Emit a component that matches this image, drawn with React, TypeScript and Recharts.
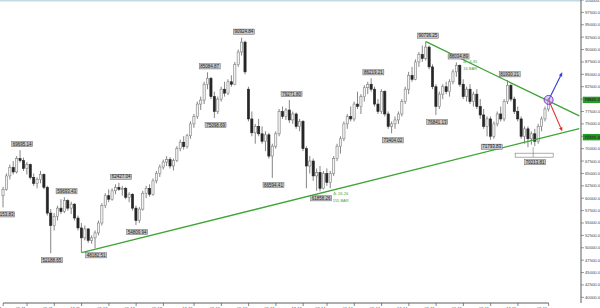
// Weekly-style candles with two converging trend lines and pivot labels
import { ComposedChart, Bar, XAxis, YAxis, ReferenceLine, ReferenceDot } from 'recharts';

type Ohlc = [number, number, number, number]; // open, high, low, close

const y2011: Ohlc[] = [
  [60500, 62300, 58150, 61800], [61800, 65000, 61500, 64500], [64500, 66800, 63800, 66200], [66200, 67500, 64800, 65300],
  [65300, 68500, 65000, 68000], [68000, 69700, 67200, 67600], [67600, 68200, 65500, 66000], [66000, 67300, 64800, 66800],
  [66800, 67000, 63800, 64200], [64200, 65000, 62500, 63000], [63000, 64200, 62000, 63800], [63800, 65500, 63000, 64800],
  [64800, 65000, 61800, 62200], [62200, 62500, 56500, 57000], [57000, 57800, 48900, 54500], [54500, 57000, 53500, 56300],
  [56300, 58500, 55500, 58000], [58000, 59800, 56800, 57300], [57300, 60200, 57000, 59500], [59500, 59800, 57500, 58000],
  [58000, 59300, 56800, 58800], [58800, 59000, 55500, 56000], [56000, 56500, 53500, 54000], [54000, 55000, 49000, 52000],
  [52000, 54500, 51500, 53800], [53800, 54000, 51000, 51500], [51500, 52500, 50800, 52000], [52000, 53500, 49900, 53000],
  [53000, 55500, 52500, 55000], [55000, 59000, 54500, 58500], [58500, 61000, 58000, 60500],
];

const y2012: Ohlc[] = [
  [60500, 61800, 59200, 59800], [59800, 62000, 59500, 61500], [61500, 62800, 60800, 62200], [62200, 63100, 61500, 61800],
  [61800, 62500, 60500, 62000], [62000, 62300, 59800, 60200], [60200, 61200, 59200, 60800], [60800, 61000, 57500, 58000],
  [58000, 58500, 54600, 55500], [55500, 58200, 55000, 57800], [57800, 61500, 57500, 61000], [61000, 62500, 60000, 62000],
  [62000, 62800, 60300, 60800], [60800, 64000, 60500, 63500], [63500, 65500, 63000, 65000], [65000, 66800, 64300, 66300],
  [66300, 67800, 65800, 67300], [67300, 68500, 66500, 67800], [67800, 68300, 66000, 66500], [66500, 68000, 65600, 67600],
  [67600, 70500, 67300, 70000], [70000, 71800, 69500, 71300], [71300, 72500, 69800, 70400], [70400, 73000, 70000, 72600],
  [72600, 75500, 72000, 75000], [75000, 77000, 74200, 76500], [76500, 79500, 76000, 79000], [79000, 80500, 77800, 79800],
  [79800, 83500, 79000, 83000], [83000, 85400, 82000, 84200], [84200, 84500, 80000, 80500], [80500, 81500, 76200, 77500],
  [77500, 80500, 77000, 80000],
];

const y2013: Ohlc[] = [
  [80000, 82500, 79500, 82000], [82000, 83500, 80500, 81200], [81200, 84000, 80800, 83500], [83500, 84800, 82500, 83000],
  [83000, 87500, 82800, 87000], [87000, 90000, 86500, 89500], [89500, 92400, 88800, 91500], [91500, 91800, 85000, 85500],
  [82000, 82500, 75500, 76000], [76000, 77500, 72500, 73200], [73200, 75000, 71000, 74500], [74500, 76000, 72500, 73000],
  [73000, 74500, 71000, 71500], [71500, 73500, 69500, 72800], [72800, 73200, 68000, 68500], [68500, 71000, 64100, 70500],
  [70500, 73500, 70000, 73000], [73000, 78000, 72500, 77500], [77500, 78500, 76000, 76500], [76500, 78200, 75800, 77800],
  [77800, 79800, 75200, 75800], [75800, 77500, 75000, 77000], [77000, 77300, 74000, 74500], [74500, 76000, 73500, 75500],
  [75500, 75800, 69500, 70000], [70000, 70500, 62000, 66500], [66500, 68500, 65000, 67500], [67500, 68000, 63500, 64500],
  [64500, 66000, 61500, 65200], [65200, 66500, 61400, 62000], [62000, 65500, 61800, 65000], [65000, 66000, 62500, 63200],
];

const y2014: Ohlc[] = [
  [63200, 65500, 62000, 65000], [65000, 68500, 64500, 68000], [68000, 71000, 67500, 70500], [70500, 72500, 69000, 72000],
  [72000, 75500, 71500, 75000], [75000, 77000, 74000, 76500], [76500, 78500, 75500, 76000], [76000, 79500, 75500, 79000],
  [79000, 81500, 78000, 78500], [78500, 81000, 77000, 80500], [80500, 82800, 79500, 82300], [82300, 83500, 81000, 83000],
  [83000, 84200, 81500, 82000], [82000, 82500, 78500, 79000], [79000, 80000, 77000, 77500], [77500, 82000, 77000, 81500],
  [81500, 81800, 76500, 77000], [77000, 77500, 74000, 74500], [74500, 75500, 73100, 75000], [75000, 76500, 74000, 75800],
  [75800, 77500, 75000, 77000], [77000, 80000, 76500, 79500], [79500, 82500, 79000, 82000], [82000, 85500, 81000, 84800],
  [84800, 86500, 83500, 84000], [84000, 88000, 83800, 87500], [87500, 89500, 86500, 89000], [89000, 90800, 87500, 88200],
  [88200, 91600, 87800, 90500], [90500, 90800, 86000, 86500], [86500, 87000, 82000, 82500], [82500, 83000, 76800, 78500],
];

const y2015: Ohlc[] = [
  [78500, 81500, 78000, 81000], [81000, 83000, 80000, 82500], [82500, 83500, 81000, 81500], [81500, 84000, 80500, 83500],
  [83500, 86000, 83000, 85500], [85500, 87400, 84500, 86800], [86800, 87000, 82500, 83000], [83000, 84000, 80000, 80500],
  [80500, 82500, 79500, 82000], [82000, 83000, 79000, 79500], [79500, 81500, 78500, 81000], [81000, 82000, 78000, 78500],
  [78500, 80000, 76000, 76800], [76800, 78000, 74000, 74500], [74500, 76500, 72500, 76000], [76000, 76500, 71800, 72500],
  [72500, 75500, 72000, 75000], [75000, 77500, 74500, 77000], [77000, 78500, 75500, 76000], [76000, 80000, 75500, 79500],
  [79500, 83800, 79000, 82800], [82800, 83000, 79500, 80000], [80000, 80500, 77000, 77500], [77500, 78500, 75500, 76000],
];

const y2016: Ohlc[] = [
  [76000, 76500, 72000, 72500], [72500, 74500, 71000, 74000], [74000, 74500, 70300, 72000], [72000, 73500, 70800, 73000],
  [73000, 74000, 70500, 71500], [71500, 75000, 71000, 74500], [74500, 76500, 73500, 76000], [76000, 78500, 75500, 78000],
  [78000, 80200, 77500, 79841],
];

const futureSlots = 9; // empty bars to the right of the last candle

const tickKs = [0, 7, 15, 23, 31, 39, 47, 56, 64, 72, 80, 88, 95, 103, 111, 119, 127, 135, 143, 151, 160];
const tickLabels = ['03-11', '06-11', '09-11', '12-11', '03-12', '06-12', '09-12', '12-12', '03-13', '06-13', '09-13',
  '12-13', '03-14', '06-14', '09-14', '12-14', '03-15', '06-15', '09-15', '12-15', '03-16'];

const yTicks = [40000, 42500, 45000, 47500, 50000, 52500, 55000, 57500, 60000, 62500, 65000, 67500, 70000, 72500,
  75000, 77500, 80000, 82500, 85000, 87500, 90000, 92500, 95000, 97500, 100000];

// [bar index, price, text]
const peakLabels: [number, number, string][] = [
  [5, 69700, '69695.14'], [18, 60200, '59693.43'], [34, 63100, '62427.04'], [60, 85400, '85084.87'],
  [70, 92400, '90924.84'], [84, 79800, '79271.80'], [108, 84200, '86219.21'], [124, 91600, '90736.25'],
  [133, 87400, '88034.89'], [148, 83800, '81930.21'],
];
const lowLabels: [number, number, string][] = [
  [0, 58150, '58153.83'], [14, 48900, '52188.65'], [27, 49900, '48182.51'], [39, 54600, '54809.94'],
  [62, 76200, '75098.69'], [79, 64100, '66594.41'], [93, 61400, '61858.26'], [114, 73100, '73404.02'],
  [127, 76800, '76841.13'], [143, 71800, '71793.83'],
];
const rangeLow: [number, number, string] = [154, 70300, '70213.81'];

const supportLine = [{ x: 23, y: 49000 }, { x: 169, y: 74050 }];
const resistLine = [{ x: 124, y: 91600 }, { x: 169, y: 76600 }];
const lastPrice = { k: 160, v: 79841, text: '79841.27' };
const supportTag = { v: 72321, text: '72321.46' };
const upTarget = { k: 164, v: 85400 };
const downTarget = { k: 164, v: 73500 };

// [bar index, price, first line, second line]
const trendNotes: [number, number, string, string][] = [
  [137, 87600, 'Δ: -6.35', '16 BAR'],
  [99, 60900, 'Δ: 26.26', '155 BAR'],
];

const candles = [...y2011, ...y2012, ...y2013, ...y2014, ...y2015, ...y2016];
const rows: any[] = candles.map(([o, h, l, c], k) => ({ k, o, h, l, c }));
for (let i = 0; i < futureSlots; i++) rows.push({ k: candles.length + i });

const GREEN = '#3ca534';
const FONT = 'Liberation Sans, Arial, sans-serif';

function Candle(props: any) {
  const { x, y, width, height, payload } = props;
  if (!payload || payload.o == null) return <g />;
  const { o, h, l, c } = payload;
  const top = Math.min(y, y + height);
  const span = Math.abs(height);
  const py = (v: number) => top + ((h - v) / (h - l)) * span;
  const cx = x + width / 2;
  const up = c >= o;
  const bTop = py(Math.max(o, c));
  const bH = Math.max(0.8, py(Math.min(o, c)) - bTop);
  return (
    <g>
      <line x1={cx} x2={cx} y1={top} y2={top + span} stroke="#666" strokeWidth={0.8} />
      <rect x={cx - 1.1} y={bTop} width={2.2} height={bH}
        fill={up ? '#f2f2f2' : '#262626'} stroke={up ? '#808080' : '#262626'} strokeWidth={0.6} />
    </g>
  );
}

function PivotBox({ cx, cy, text }: { cx: number; cy: number; text: string }) {
  return (
    <g>
      <rect x={cx - 10.5} y={cy - 2.6} width={21} height={5.2} fill="#c6c6c6" stroke="#6a6a6a" strokeWidth={0.5} />
      <text x={cx} y={cy + 1.6} textAnchor="middle" fontSize={4.5} fill="#1e1e1e" fontFamily={FONT}>{text}</text>
    </g>
  );
}

function Arrow(color: string) {
  return (p: any) => {
    const { x1, y1, x2, y2 } = p;
    const dx = x2 - x1;
    const dy = y2 - y1;
    const len = Math.hypot(dx, dy) || 1;
    const ux = dx / len;
    const uy = dy / len;
    const hl = 4;
    const hw = 1.8;
    const bx = x2 - ux * hl;
    const by = y2 - uy * hl;
    const pts = `${x2},${y2} ${bx - uy * hw},${by + ux * hw} ${bx + uy * hw},${by - ux * hw}`;
    return (
      <g>
        <line x1={x1} y1={y1} x2={bx} y2={by} stroke={color} strokeWidth={1.1} />
        <polygon points={pts} fill={color} />
      </g>
    );
  };
}

function XTick(props: any) {
  const { x, y, payload } = props;
  const label = tickLabels[tickKs.indexOf(payload.value)];
  return (
    <g>
      <line x1={x} x2={x} y1={y} y2={y + 3} stroke="#555" strokeWidth={0.7} />
      <text x={x - 1.5} y={y + 6.6} textAnchor="end" fontSize={4} fill="#444" fontFamily={FONT}>{label}</text>
    </g>
  );
}

function PriceTag(text: string) {
  return (p: any) => (
    <g>
      <rect x={p.cx + 3.5} y={p.cy - 3.2} width={20} height={6.4} fill="#22a022" />
      <text x={p.cx + 5} y={p.cy + 1.6} fontSize={4.3} fill="#111" fontFamily={FONT}>{text}</text>
    </g>
  );
}

export default function App() {
  const yMin = 38855;
  const yMax = 100000;
  return (
    <div style={{ position: 'absolute', left: 0, top: 0, width: 600, height: 308, background: '#fff', fontFamily: FONT }}>
      <ComposedChart width={600} height={308} data={rows} margin={{ top: 0, right: 0, bottom: 0, left: 0 }}>
        <XAxis dataKey="k" type="category" ticks={tickKs} interval={0} height={5} tickLine={false} axisLine={false}
          tickSize={0} tickMargin={0} tick={<XTick />} padding={{ left: 1.5, right: 0 }} />
        <YAxis orientation="right" width={19} domain={[yMin, yMax]} ticks={yTicks} interval={0} allowDataOverflow
          tickSize={3} tickMargin={1} axisLine={{ stroke: '#333', strokeWidth: 0.8 }} tickLine={{ stroke: '#555', strokeWidth: 0.6 }}
          tick={{ fontSize: 4.2, fill: '#444', textAnchor: 'start', fontFamily: FONT }}
          tickFormatter={(v: number) => v.toFixed(2)} />
        <ReferenceLine y={99850} stroke="#c3dae2" strokeWidth={1.6} />
        <ReferenceLine segment={[{ x: 0, y: yMin }, { x: 160, y: yMin }]} stroke="#333" strokeWidth={0.8} />
        <Bar dataKey={(d: any) => (d.h != null ? [d.l, d.h] : null)} barSize={3} shape={<Candle />} isAnimationActive={false} />
        <ReferenceLine segment={supportLine} stroke={GREEN} strokeWidth={1.3} />
        <ReferenceLine segment={resistLine} stroke={GREEN} strokeWidth={1.3} />
        {peakLabels.map(([k, v, t]) => (
          <ReferenceDot key={'p' + k} x={k} y={v} r={0}
            shape={(p: any) => <PivotBox cx={p.cx + 2} cy={p.cy - 6} text={t} />} />
        ))}
        {lowLabels.map(([k, v, t]) => (
          <ReferenceDot key={'l' + k} x={k} y={v} r={0}
            shape={(p: any) => <PivotBox cx={p.cx + 1} cy={p.cy + 7} text={t} />} />
        ))}
        <ReferenceDot x={rangeLow[0]} y={rangeLow[1]} r={0}
          shape={(p: any) => (
            <g>
              <rect x={p.cx - 13} y={p.cy + 6} width={38} height={4} fill="#fff" stroke="#777" strokeWidth={0.6} />
              <line x1={p.cx + 5} x2={p.cx + 5} y1={p.cy} y2={p.cy + 10} stroke="#777" strokeWidth={0.6} />
              <PivotBox cx={p.cx + 7} cy={p.cy + 15} text={rangeLow[2]} />
            </g>
          )} />
        {trendNotes.map(([k, v, a, b]) => (
          <ReferenceDot key={'n' + k} x={k} y={v} r={0}
            shape={(p: any) => (
              <g fontFamily={FONT} fontSize={4} fill={GREEN}>
                <text x={p.cx} y={p.cy + 1.5} textAnchor="middle">{a}</text>
                <text x={p.cx} y={p.cy + 8.5} textAnchor="middle">{b}</text>
              </g>
            )} />
        ))}
        <ReferenceLine segment={[{ x: lastPrice.k, y: lastPrice.v }, { x: upTarget.k, y: upTarget.v }]}
          shape={Arrow('#2b3fd6')} />
        <ReferenceLine segment={[{ x: lastPrice.k, y: lastPrice.v }, { x: downTarget.k, y: downTarget.v }]}
          shape={Arrow('#e02828')} />
        <ReferenceDot x={lastPrice.k} y={lastPrice.v} r={4.5} fill="rgba(180,140,235,0.45)" stroke="#7b3dcc" strokeWidth={1} />
        <ReferenceDot x={169} y={lastPrice.v} r={0} shape={PriceTag(lastPrice.text)} />
        <ReferenceDot x={169} y={supportTag.v} r={0} shape={PriceTag(supportTag.text)} />
      </ComposedChart>
    </div>
  );
}
